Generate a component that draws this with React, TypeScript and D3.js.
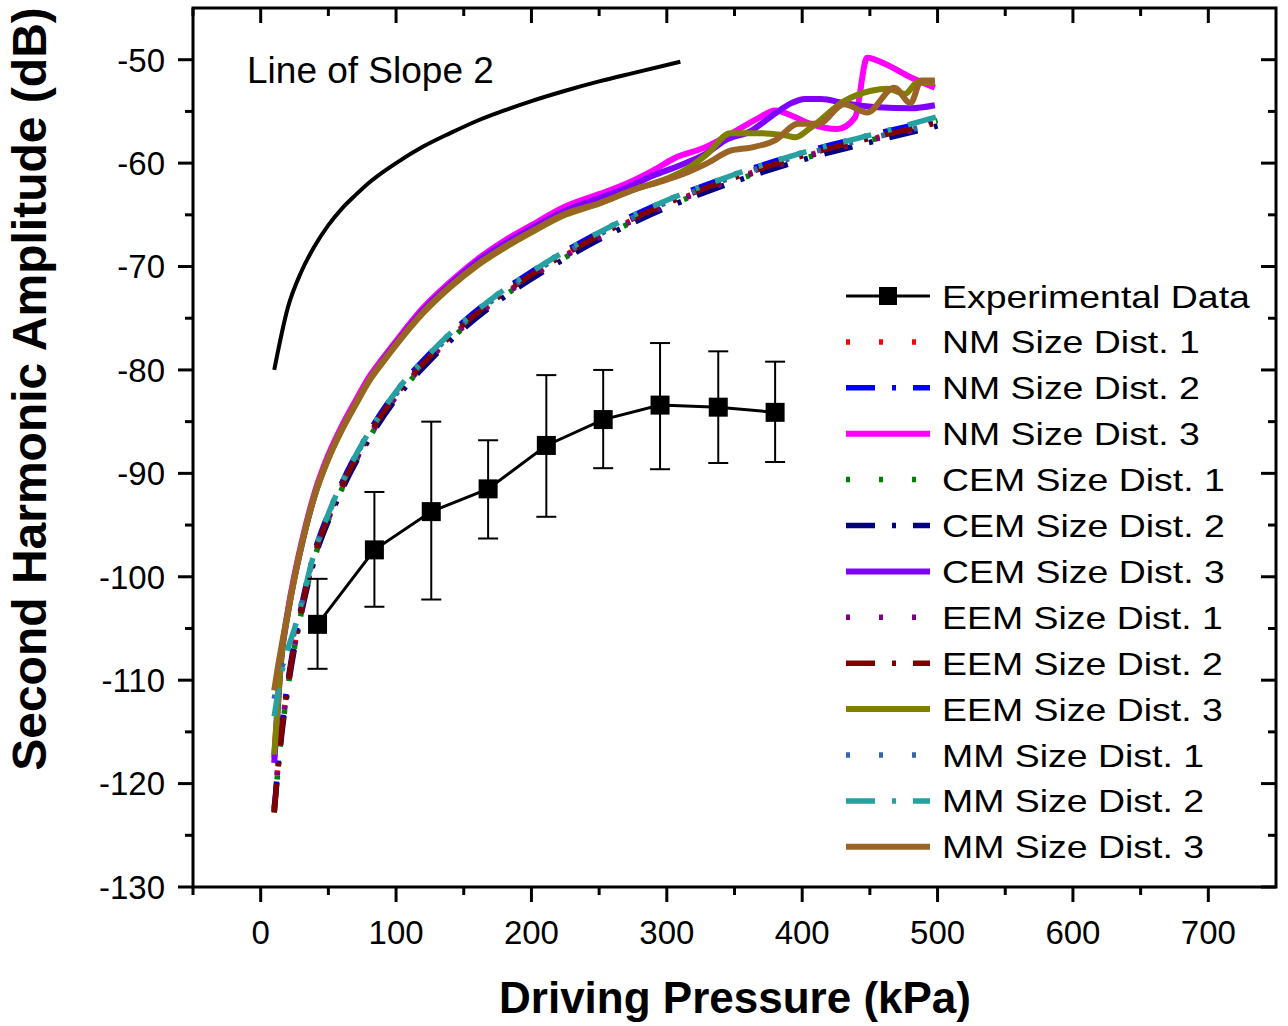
import React from "react";
import * as d3 from "d3";

// driving pressure (kPa) grid shared by the size dist. 1 / 2 model curves
const pressure = [10, 12, 15, 20, 25, 30, 40, 50, 60, 80, 100, 125, 150, 175, 200, 250, 300, 350, 400, 450, 500];

const nmDist1 = [-122.3, -119.3, -115.4, -110.5, -106.6, -103.3, -97.9, -94.3, -91.3, -86.4, -82.5, -78.8, -75.7, -73.1, -70.9, -67.1, -64.0, -61.5, -59.4, -57.7, -56.1];
const nmDist2 = [-122.6, -119.4, -115.2, -110.2, -106.2, -102.9, -97.5, -93.9, -90.9, -86.0, -82.1, -78.4, -75.3, -72.7, -70.5, -66.7, -63.6, -61.1, -59.0, -57.3, -55.8];
const cemDist1 = [-122.8, -119.8, -115.8, -110.8, -106.8, -103.5, -98.1, -94.5, -91.5, -86.6, -82.7, -79.0, -75.9, -73.3, -71.1, -67.3, -64.2, -61.7, -59.6, -57.8, -55.9];
const cemDist2 = [-122.7, -119.8, -115.9, -110.9, -106.9, -103.6, -98.2, -94.6, -91.6, -86.7, -82.8, -79.1, -76.0, -73.4, -71.2, -67.4, -64.3, -61.8, -59.7, -58.0, -56.4];
const eemDist1 = [-122.4, -119.5, -115.6, -110.6, -106.7, -103.4, -98.0, -94.4, -91.4, -86.5, -82.6, -78.9, -75.8, -73.2, -71.0, -67.2, -64.1, -61.6, -59.5, -57.8, -56.3];
const eemDist2 = [-122.8, -119.6, -115.5, -110.5, -106.5, -103.2, -97.8, -94.2, -91.2, -86.3, -82.4, -78.7, -75.6, -73.0, -70.8, -67.0, -63.9, -61.4, -59.3, -57.6, -56.1];
const mmDist1 = [-111.8, -110.5, -109.0, -107.3, -105.3, -102.8, -97.6, -94.0, -91.0, -86.1, -82.3, -78.6, -75.5, -72.9, -70.7, -66.9, -63.8, -61.3, -59.2, -57.6, -56.2];
const mmDist2 = [-113.5, -111.8, -109.6, -107.0, -105.0, -102.6, -97.5, -93.9, -90.9, -86.0, -82.1, -78.4, -75.3, -72.7, -70.5, -66.7, -63.6, -61.1, -59.0, -57.3, -55.5];

// size dist. 3 curves, each with its own pressure points
const nm3P = [10, 12, 15, 20, 25, 30, 40, 50, 60, 70, 80, 90, 100, 120, 140, 160, 180, 200, 225, 250, 270, 290, 306, 328, 343, 367, 380, 392, 406, 426, 439, 448, 461, 480, 498];
const nmDist3 = [-117.5, -113.5, -108, -103.3, -99.8, -96.8, -91.8, -88.2, -85.4, -83.0, -80.7, -78.9, -77.2, -74.0, -71.5, -69.3, -67.5, -66.0, -64.2, -63.0, -62.0, -60.7, -59.5, -58.5, -57.5, -55.7, -54.9, -55.4, -56.2, -56.7, -55.6, -49.8, -50.4, -51.7, -52.7];
const cem3P = [10, 12, 15, 20, 25, 30, 40, 50, 60, 70, 80, 90, 100, 120, 140, 160, 180, 200, 225, 250, 270, 290, 310, 330, 343, 362, 380, 392, 402, 414, 431, 456, 480, 498];
const cemDist3 = [-118, -114, -108.3, -103.6, -100.1, -97.1, -92.1, -88.5, -85.7, -83.3, -81.0, -79.1, -77.4, -74.2, -71.7, -69.5, -67.8, -66.3, -64.6, -63.4, -62.4, -61.2, -60.2, -59.0, -57.8, -56.9, -55.2, -54.2, -53.8, -53.8, -54.2, -54.6, -54.7, -54.4];
const eem3P = [10, 12, 15, 20, 25, 30, 40, 50, 60, 70, 80, 90, 100, 120, 140, 160, 180, 200, 225, 250, 275, 300, 313, 330, 347, 367, 387, 395, 406, 431, 451, 463, 476, 485, 498];
const eemDist3 = [-117.2, -113.5, -108, -103.6, -100.1, -97.1, -92.1, -88.6, -85.8, -83.4, -81.1, -79.3, -77.6, -74.5, -72.0, -69.9, -68.2, -66.7, -65.0, -63.9, -62.6, -61.5, -60.7, -59.1, -57.1, -57.1, -57.3, -57.5, -56.6, -54.0, -53.0, -52.8, -53.3, -52.2, -52.2];
const mm3P = [10, 12, 15, 20, 25, 30, 40, 50, 60, 70, 80, 90, 100, 120, 140, 160, 180, 200, 225, 250, 275, 300, 315, 330, 347, 362, 380, 397, 412, 431, 448, 468, 480, 488, 498];
const mmDist3 = [-111, -109.3, -107, -103.5, -100, -97, -92, -88.5, -85.7, -83.3, -81.0, -79.2, -77.5, -74.4, -71.9, -69.8, -68.1, -66.6, -64.9, -63.9, -62.6, -61.6, -60.9, -60.0, -58.8, -58.5, -57.8, -56.2, -56.2, -54.3, -55.1, -52.7, -54.2, -52.0, -52.0];

// experimental data with error bars
const expP = [42, 84, 126, 168, 211, 253, 295, 338, 380];
const expMean = [-104.6, -97.4, -93.7, -91.5, -87.3, -84.8, -83.4, -83.6, -84.1];
const expHigh = [-100.2, -91.8, -85.0, -86.8, -80.5, -80.0, -77.4, -78.2, -79.2];
const expLow = [-108.9, -102.9, -102.2, -96.3, -94.2, -89.5, -89.6, -89.0, -88.9];

// reference line of slope 2
const slopeP = [10, 20, 30, 40, 50, 60, 70, 80, 90, 100, 120, 140, 160, 180, 200, 225, 250, 275, 310];
const slopeDb = [-80, -74, -70.5, -68, -66, -64.4, -63.1, -61.9, -60.9, -60, -58.4, -57.1, -55.9, -54.9, -54, -53, -52.1, -51.3, -50.2];

const xTicks = [0, 100, 200, 300, 400, 500, 600, 700];
const yTicks = [-130, -120, -110, -100, -90, -80, -70, -60, -50];

const DOT = "4,29";
const DASHDOT = "29,17,4,17";

type Series = { name: string; p: number[]; v: number[]; color: string; dash: string | null; width: number };

const series: Series[] = [
  { name: "NM Size Dist. 1", p: pressure, v: nmDist1, color: "#ff0000", dash: DOT, width: 5.5 },
  { name: "NM Size Dist. 2", p: pressure, v: nmDist2, color: "#0000ff", dash: DASHDOT, width: 5.5 },
  { name: "NM Size Dist. 3", p: nm3P, v: nmDist3, color: "#ff00ff", dash: null, width: 6 },
  { name: "CEM Size Dist. 1", p: pressure, v: cemDist1, color: "#008000", dash: DOT, width: 5.5 },
  { name: "CEM Size Dist. 2", p: pressure, v: cemDist2, color: "#000080", dash: DASHDOT, width: 5.5 },
  { name: "CEM Size Dist. 3", p: cem3P, v: cemDist3, color: "#8000ff", dash: null, width: 6 },
  { name: "EEM Size Dist. 1", p: pressure, v: eemDist1, color: "#800080", dash: DOT, width: 5.5 },
  { name: "EEM Size Dist. 2", p: pressure, v: eemDist2, color: "#800000", dash: DASHDOT, width: 5.5 },
  { name: "EEM Size Dist. 3", p: eem3P, v: eemDist3, color: "#808000", dash: null, width: 6 },
  { name: "MM Size Dist. 1", p: pressure, v: mmDist1, color: "#3366aa", dash: DOT, width: 5.5 },
  { name: "MM Size Dist. 2", p: pressure, v: mmDist2, color: "#26a0a0", dash: DASHDOT, width: 5.5 },
  { name: "MM Size Dist. 3", p: mm3P, v: mmDist3, color: "#9a6424", dash: null, width: 6 },
];

const W = 1288;
const H = 1026;
const m = { left: 193, right: 1276, top: 8, bottom: 887 };
const FONT = "'Liberation Sans', Arial, sans-serif";

export default function App() {
  const x = d3.scaleLinear().domain([-50, 750]).range([m.left, m.right]);
  const y = d3.scaleLinear().domain([-130, -45]).range([m.bottom, m.top]);

  const line = d3
    .line<[number, number]>()
    .x((d) => x(d[0]))
    .y((d) => y(d[1]))
    .curve(d3.curveMonotoneX);

  const xMinor = xTicks.map((t) => t - 50);
  const yMinor = yTicks.slice(0, -1).map((t) => t + 5);

  const legendY0 = 296;
  const legendStep = 45.9;

  return (
    <svg width={W} height={H} style={{ position: "absolute", left: 0, top: 0, background: "#fff" }} fontFamily={FONT}>
      {/* model curves */}
      {series.map((s) => (
        <path
          key={s.name}
          d={line(s.p.map((p, i) => [p, s.v[i]] as [number, number])) || ""}
          fill="none"
          stroke={s.color}
          strokeWidth={s.width}
          strokeDasharray={s.dash || undefined}
          strokeLinejoin="round"
        />
      ))}

      {/* slope 2 line */}
      <path
        d={line(slopeP.map((p, i) => [p, slopeDb[i]] as [number, number])) || ""}
        fill="none"
        stroke="#000"
        strokeWidth={4}
      />
      <text x={247} y={83} fontSize={37}>Line of Slope 2</text>

      {/* experimental data */}
      <g>
        {expP.map((p, i) => (
          <g key={p} stroke="#000" strokeWidth={2}>
            <line x1={x(p)} x2={x(p)} y1={y(expHigh[i])} y2={y(expLow[i])} />
            <line x1={x(p) - 10} x2={x(p) + 10} y1={y(expHigh[i])} y2={y(expHigh[i])} />
            <line x1={x(p) - 10} x2={x(p) + 10} y1={y(expLow[i])} y2={y(expLow[i])} />
          </g>
        ))}
        <path
          d={d3.line<number>().x((p) => x(p)).y((p, i) => y(expMean[i]))(expP) || ""}
          fill="none"
          stroke="#000"
          strokeWidth={3}
        />
        {expP.map((p, i) => (
          <rect key={p} x={x(p) - 9.5} y={y(expMean[i]) - 9.5} width={19} height={19} fill="#000" />
        ))}
      </g>

      {/* frame */}
      <rect x={m.left} y={m.top} width={m.right - m.left} height={m.bottom - m.top} fill="none" stroke="#000" strokeWidth={3} />

      {/* x ticks */}
      {xTicks.map((t) => (
        <g key={t}>
          <line x1={x(t)} x2={x(t)} y1={m.bottom} y2={m.bottom + 15} stroke="#000" strokeWidth={3} />
          <line x1={x(t)} x2={x(t)} y1={m.top} y2={m.top + 15} stroke="#000" strokeWidth={3} />
          <text x={x(t)} y={944} fontSize={33} textAnchor="middle">{t}</text>
        </g>
      ))}
      {xMinor.map((t) => (
        <g key={t}>
          <line x1={x(t)} x2={x(t)} y1={m.bottom} y2={m.bottom + 8} stroke="#000" strokeWidth={3} />
          <line x1={x(t)} x2={x(t)} y1={m.top} y2={m.top + 8} stroke="#000" strokeWidth={3} />
        </g>
      ))}

      {/* y ticks */}
      {yTicks.map((t) => (
        <g key={t}>
          <line x1={m.left - 15} x2={m.left} y1={y(t)} y2={y(t)} stroke="#000" strokeWidth={3} />
          <line x1={m.right - 15} x2={m.right} y1={y(t)} y2={y(t)} stroke="#000" strokeWidth={3} />
          <text x={165} y={y(t)} dy="0.36em" fontSize={33} textAnchor="end">{t}</text>
        </g>
      ))}
      {yMinor.map((t) => (
        <g key={t}>
          <line x1={m.left - 8} x2={m.left} y1={y(t)} y2={y(t)} stroke="#000" strokeWidth={3} />
          <line x1={m.right - 8} x2={m.right} y1={y(t)} y2={y(t)} stroke="#000" strokeWidth={3} />
        </g>
      ))}

      {/* axis titles */}
      <text x={735} y={1013} fontSize={44} fontWeight="bold" textAnchor="middle">Driving Pressure (kPa)</text>
      <text transform={`translate(46,389) rotate(-90)`} fontSize={48} fontWeight="bold" textAnchor="middle">
        Second Harmonic Amplitude (dB)
      </text>

      {/* legend */}
      <g>
        <line x1={846} x2={930} y1={legendY0} y2={legendY0} stroke="#000" strokeWidth={3} />
        <rect x={879} y={legendY0 - 9} width={18} height={18} fill="#000" />
        <text transform={`translate(942,${legendY0}) scale(1.17,1)`} dy="0.36em" fontSize={32}>Experimental Data</text>
        {series.map((s, i) => {
          const ly = legendY0 + legendStep * (i + 1);
          return (
            <g key={s.name}>
              <line
                x1={846}
                x2={930}
                y1={ly}
                y2={ly}
                stroke={s.color}
                strokeWidth={s.width}
                strokeDasharray={s.dash || undefined}
              />
              <text transform={`translate(942,${ly}) scale(1.17,1)`} dy="0.36em" fontSize={32}>{s.name}</text>
            </g>
          );
        })}
      </g>
    </svg>
  );
}
